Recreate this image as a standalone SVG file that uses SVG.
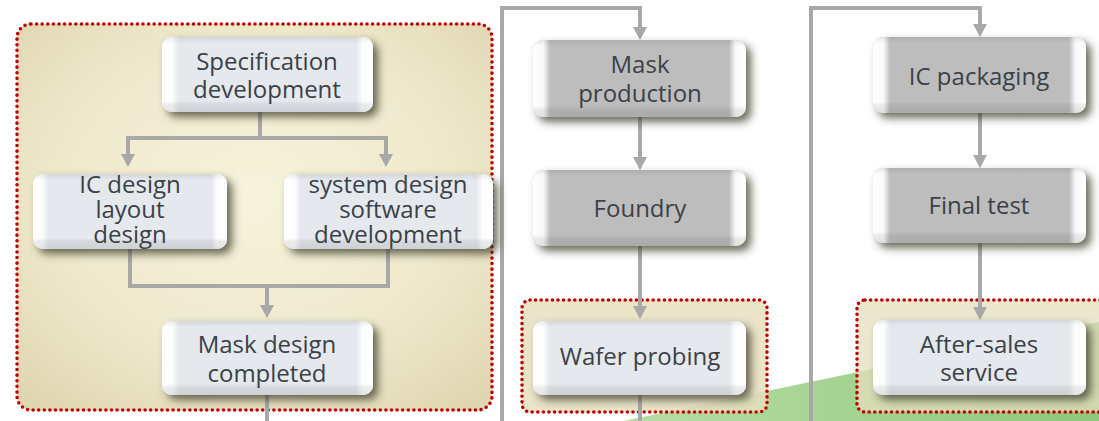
<svg xmlns="http://www.w3.org/2000/svg" width="1099" height="421" viewBox="0 0 1099 421">
<style>
.t{font-family:"Open Sans","Noto Sans","DejaVu Sans",sans-serif;font-size:24px;fill:#3b4147;text-anchor:middle}
.ln{fill:none;stroke:#a8a8a8;stroke-width:4}
.dot{fill:none;stroke:#c00000;stroke-width:3.6;stroke-linecap:round;stroke-dasharray:0 5.6}
</style>
<defs>
<radialGradient id="tan" cx="0.5" cy="0.45" r="0.7">
<stop offset="0" stop-color="#f6f3dc"/>
<stop offset="0.6" stop-color="#efe9cc"/>
<stop offset="1" stop-color="#e0d6b2"/>
</radialGradient>
<linearGradient id="green" x1="0" y1="0" x2="1" y2="0">
<stop offset="0" stop-color="#b8dda7"/>
<stop offset="1" stop-color="#8fc77b"/>
</linearGradient>
<linearGradient id="edgeH" x1="0" y1="0" x2="1" y2="0">
<stop offset="0" stop-color="#fff" stop-opacity="1"/>
<stop offset="0.05" stop-color="#fff" stop-opacity="0.9"/>
<stop offset="0.08" stop-color="#fff" stop-opacity="0"/>
<stop offset="0.92" stop-color="#fff" stop-opacity="0"/>
<stop offset="0.95" stop-color="#fff" stop-opacity="0.9"/>
<stop offset="1" stop-color="#fff" stop-opacity="1"/>
</linearGradient>
<linearGradient id="edgeV" x1="0" y1="0" x2="0" y2="1">
<stop offset="0" stop-color="#000" stop-opacity="0.08"/>
<stop offset="0.08" stop-color="#000" stop-opacity="0"/>
<stop offset="0.85" stop-color="#000" stop-opacity="0"/>
<stop offset="0.9" stop-color="#000" stop-opacity="0.07"/>
<stop offset="1" stop-color="#000" stop-opacity="0.1"/>
</linearGradient>
<filter id="sh" x="-20%" y="-30%" width="150%" height="170%">
<feGaussianBlur in="SourceAlpha" stdDeviation="4"/>
<feOffset dx="5" dy="5" result="b"/>
<feFlood flood-color="#3a3a28" flood-opacity="0.75"/>
<feComposite in2="b" operator="in"/>
<feMerge><feMergeNode/><feMergeNode in="SourceGraphic"/></feMerge>
</filter>
<marker id="ar" viewBox="0 -7 13 14" refX="7" refY="0" markerWidth="13" markerHeight="14" markerUnits="userSpaceOnUse" orient="auto">
<path d="M0,-7 L13,0 L0,7 Z" fill="#a8a8a8"/>
</marker>
</defs>

<rect x="0" y="0" width="1099" height="421" fill="#fff"/>
<polygon points="623,421 1099,322 1099,421" fill="url(#green)"/>

<g id="region-design">
<rect x="17" y="24" width="475" height="386" rx="14" fill="url(#tan)"/>
<rect x="17" y="24" width="475" height="386" rx="14" class="dot"/>
</g>
<g id="region-wafer">
<rect x="522" y="300" width="245" height="112" rx="8" fill="#e6dfbf" fill-opacity="0.85"/>
<rect x="522" y="300" width="245" height="112" rx="8" class="dot"/>
</g>
<g id="region-aftersales">
<rect x="857" y="300" width="260" height="112" rx="8" fill="#e6dfbf" fill-opacity="0.75"/>
<rect x="857" y="300" width="260" height="112" rx="8" class="dot"/>
</g>

<g id="connectors">
<path class="ln" d="M260,112 V138 M128,138 H386"/>
<path class="ln" d="M128,136 V161" marker-end="url(#ar)"/>
<path class="ln" d="M386,136 V161" marker-end="url(#ar)"/>
<path class="ln" d="M130,249 V286 H388 V249"/>
<path class="ln" d="M267,286 V312" marker-end="url(#ar)"/>
<path class="ln" d="M267,395 V421"/>
<path class="ln" d="M502,421 V8 H640 V34" marker-end="url(#ar)"/>
<path class="ln" d="M640,117 V164" marker-end="url(#ar)"/>
<path class="ln" d="M640,246 V313" marker-end="url(#ar)"/>
<path class="ln" d="M640,395 V421"/>
<path class="ln" d="M811,421 V8 H980 V31" marker-end="url(#ar)"/>
<path class="ln" d="M980,113 V162" marker-end="url(#ar)"/>
<path class="ln" d="M980,243 V314" marker-end="url(#ar)"/>
</g>

<g id="spec">
<g filter="url(#sh)">
<rect x="162" y="37" width="211" height="75" rx="10" fill="#e5e8ed"/>
<rect x="162" y="37" width="211" height="75" rx="10" fill="url(#edgeH)"/>
<rect x="162" y="37" width="211" height="75" rx="10" fill="url(#edgeV)"/>
</g>
<text class="t" x="267" y="70">Specification<tspan x="267" dy="28">development</tspan></text>
</g>

<g id="icdesign">
<g filter="url(#sh)">
<rect x="33" y="174" width="194" height="75" rx="10" fill="#e5e8ed"/>
<rect x="33" y="174" width="194" height="75" rx="10" fill="url(#edgeH)"/>
<rect x="33" y="174" width="194" height="75" rx="10" fill="url(#edgeV)"/>
</g>
<text class="t" x="130" y="193">IC design<tspan x="130" dy="25">layout</tspan><tspan x="130" dy="25">design</tspan></text>
</g>

<g id="sysdesign">
<g filter="url(#sh)">
<rect x="284" y="174" width="209" height="75" rx="10" fill="#e5e8ed"/>
<rect x="284" y="174" width="209" height="75" rx="10" fill="url(#edgeH)"/>
<rect x="284" y="174" width="209" height="75" rx="10" fill="url(#edgeV)"/>
</g>
<text class="t" x="388" y="193">system design<tspan x="388" dy="25">software</tspan><tspan x="388" dy="25">development</tspan></text>
</g>

<g id="maskdesign">
<g filter="url(#sh)">
<rect x="162" y="321" width="211" height="74" rx="10" fill="#e5e8ed"/>
<rect x="162" y="321" width="211" height="74" rx="10" fill="url(#edgeH)"/>
<rect x="162" y="321" width="211" height="74" rx="10" fill="url(#edgeV)"/>
</g>
<text class="t" x="267" y="353">Mask design<tspan x="267" dy="29">completed</tspan></text>
</g>

<g id="maskprod">
<g filter="url(#sh)">
<rect x="533" y="40" width="213" height="77" rx="10" fill="#bdbdbd"/>
<rect x="533" y="40" width="213" height="77" rx="10" fill="url(#edgeH)"/>
<rect x="533" y="40" width="213" height="77" rx="10" fill="url(#edgeV)"/>
</g>
<text class="t" x="640" y="73">Mask<tspan x="640" dy="29">production</tspan></text>
</g>

<g id="foundry">
<g filter="url(#sh)">
<rect x="533" y="170" width="213" height="76" rx="10" fill="#bdbdbd"/>
<rect x="533" y="170" width="213" height="76" rx="10" fill="url(#edgeH)"/>
<rect x="533" y="170" width="213" height="76" rx="10" fill="url(#edgeV)"/>
</g>
<text class="t" x="640" y="217">Foundry</text>
</g>

<g id="wafer">
<g filter="url(#sh)">
<rect x="533" y="321" width="213" height="74" rx="10" fill="#e5e8ed"/>
<rect x="533" y="321" width="213" height="74" rx="10" fill="url(#edgeH)"/>
<rect x="533" y="321" width="213" height="74" rx="10" fill="url(#edgeV)"/>
</g>
<text class="t" x="640" y="365">Wafer probing</text>
</g>

<g id="icpack">
<g filter="url(#sh)">
<rect x="873" y="37" width="213" height="76" rx="10" fill="#bdbdbd"/>
<rect x="873" y="37" width="213" height="76" rx="10" fill="url(#edgeH)"/>
<rect x="873" y="37" width="213" height="76" rx="10" fill="url(#edgeV)"/>
</g>
<text class="t" x="979" y="85">IC packaging</text>
</g>

<g id="finaltest">
<g filter="url(#sh)">
<rect x="873" y="168" width="213" height="75" rx="10" fill="#bdbdbd"/>
<rect x="873" y="168" width="213" height="75" rx="10" fill="url(#edgeH)"/>
<rect x="873" y="168" width="213" height="75" rx="10" fill="url(#edgeV)"/>
</g>
<text class="t" x="979" y="214">Final test</text>
</g>

<g id="aftersales">
<g filter="url(#sh)">
<rect x="873" y="320" width="213" height="75" rx="10" fill="#e5e8ed"/>
<rect x="873" y="320" width="213" height="75" rx="10" fill="url(#edgeH)"/>
<rect x="873" y="320" width="213" height="75" rx="10" fill="url(#edgeV)"/>
</g>
<text class="t" x="979" y="353">After-sales<tspan x="979" dy="28">service</tspan></text>
</g>
</svg>
